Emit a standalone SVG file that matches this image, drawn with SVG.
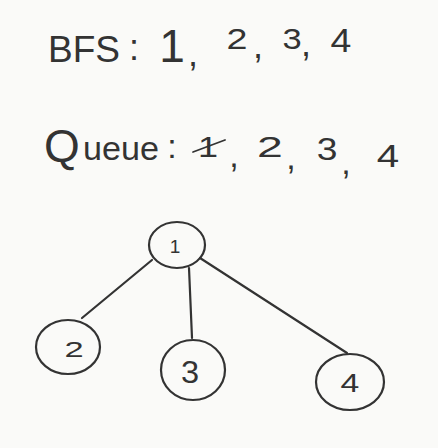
<svg xmlns="http://www.w3.org/2000/svg" width="438" height="448" viewBox="0 0 438 448">
<style>
.bg{fill:#fafaf8}
.t{font-family:"Liberation Sans",Arial,sans-serif;fill:#333;text-anchor:middle}
.h{font-size:36px}
.q{font-size:34px}
.n{fill:none;stroke:#333;stroke-width:2.2}
.e{fill:none;stroke:#333;stroke-width:2.2;stroke-linecap:round}
</style>
<rect class="bg" x="0" y="0" width="438" height="448"/>
<g id="bfs-line">
<text class="t h" x="84" y="62" textLength="72" lengthAdjust="spacingAndGlyphs">BFS</text>
<text class="t h" x="134" y="60">:</text>
<text class="t" style="font-size:46px" x="172" y="62">1</text>
<text class="t h" x="193" y="66">,</text>
<text class="t" style="font-size:29px" transform="translate(237 49) scale(1.3 1)">2</text>
<text class="t h" x="258" y="58">,</text>
<text class="t" style="font-size:30px" transform="translate(292 49) scale(1.15 1)">3</text>
<text class="t h" x="306" y="56">,</text>
<text class="t" style="font-size:34px" transform="translate(341 52) scale(1.1 1)">4</text>
</g>
<g id="queue-line">
<text class="t q" x="62" y="162" style="font-size:46px">Q</text>
<text class="t q" x="121" y="160" textLength="76" lengthAdjust="spacingAndGlyphs">ueue</text>
<text class="t q" x="172" y="158">:</text>
<text class="t" style="font-size:30px" transform="translate(208 157) scale(1.2 1)">1</text>
<path class="e" d="M193 152 L225 140" style="stroke-width:1.8"/>
<text class="t q" x="234" y="167">,</text>
<text class="t" style="font-size:29px" transform="translate(270 157) scale(1.6 1)">2</text>
<text class="t q" x="291" y="169">,</text>
<text class="t" style="font-size:31px" transform="translate(327 160) scale(1.2 1)">3</text>
<text class="t q" x="346" y="174">,</text>
<text class="t" style="font-size:31px" transform="translate(388 167) scale(1.3 1)">4</text>
</g>
<g id="connectors">
<path class="e" d="M152 260 L82 318"/>
<path class="e" d="M189 268 L192 338"/>
<path class="e" d="M200 258 L347 353"/>
</g>
<g id="node-1">
<ellipse class="n" cx="177" cy="245" rx="28" ry="23"/>
<text class="t" style="font-size:19px" x="175" y="253">1</text>
</g>
<g id="node-2">
<ellipse class="n" cx="68" cy="347" rx="32" ry="27"/>
<text class="t" style="font-size:23px" transform="translate(74 357) scale(1.5 1)">2</text>
</g>
<g id="node-3">
<ellipse class="n" cx="193" cy="370" rx="32" ry="30"/>
<text class="t" style="font-size:31px" transform="translate(190 383) scale(1.05 1)">3</text>
</g>
<g id="node-4">
<ellipse class="n" cx="350" cy="382" rx="34" ry="28"/>
<text class="t" style="font-size:26px" transform="translate(350 392) scale(1.3 1)">4</text>
</g>
</svg>
